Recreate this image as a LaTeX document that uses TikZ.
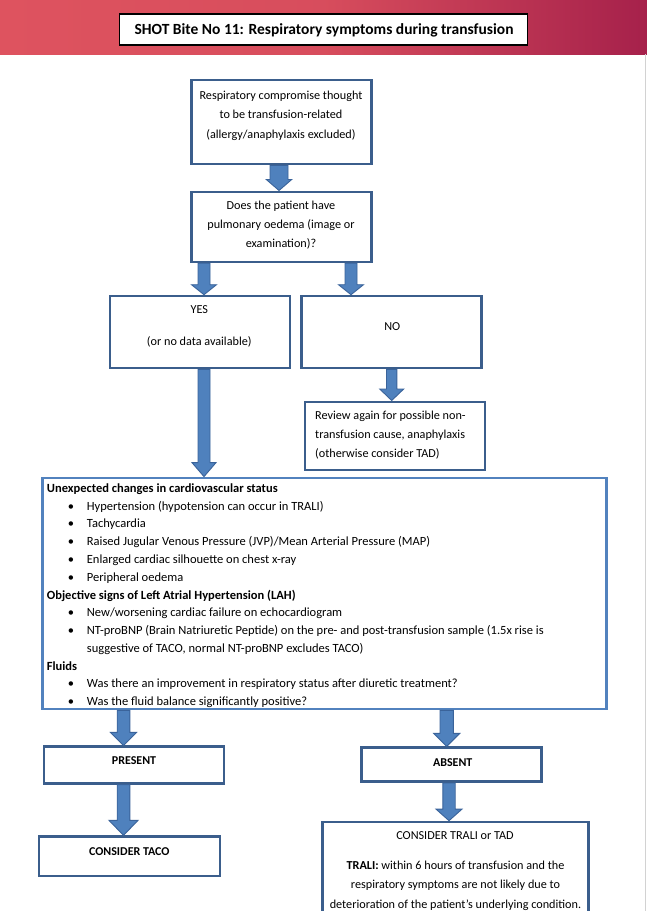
\documentclass[tikz,border=0pt]{standalone}
\usepackage{fontspec}
\setmainfont{Carlito}
\usetikzlibrary{calc}
\definecolor{boxblue}{HTML}{3B5E8C}
\definecolor{bigblue}{HTML}{5282BE}
\definecolor{arrowfill}{HTML}{4F81BD}
\definecolor{arrowedge}{HTML}{3A639A}
\definecolor{bandL}{HTML}{DE535F}
\definecolor{bandR}{HTML}{A6214B}
\newcommand\barrow[5]{%
  \draw[arrowsty] let \p1=#1, \p2=#2 in
  (\x1-#3pt,\y1) -- (\x1+#3pt,\y1) -- (\x1+#3pt,\y2+#5pt) -- (\x1+#4pt,\y2+#5pt)
  -- (\x1,\y2) -- (\x1-#4pt,\y2+#5pt) -- (\x1-#3pt,\y2+#5pt) -- cycle;}
\newcommand\itm{\makebox[40pt][l]{\hspace*{21pt}•}}
\begin{document}
\begin{tikzpicture}[x=1pt,y=-1pt,
  box/.style={draw=boxblue,line width=2.6pt,fill=white,inner sep=0pt},
  bigbox/.style={draw=bigblue,line width=2.8pt,fill=white,inner sep=0pt},
  txt/.style={inner sep=0pt,font=\fontsize{12.2}{19}\selectfont,align=center},
  btxt/.style={inner sep=0pt,font=\fontsize{12}{19}\selectfont\bfseries,align=center},
  arrowsty/.style={fill=arrowfill,draw=arrowedge,line width=0.9pt,line join=miter}]
\useasboundingbox (0,0) rectangle (647,911);
\clip (0,0) rectangle (647,911);
\fill[white] (0,0) rectangle (647,911);
\shade[left color=bandL,right color=bandR,middle color=bandL!88!bandR] (0,0) rectangle (647,54);
\draw[gray!35,line width=0.8pt] (645.5,54) -- (645.5,911);

% title
\node[draw=black,line width=1.4pt,fill=white,minimum width=408pt,minimum height=31pt,inner sep=0pt] (title) at (323.5,29.5) {};
\node[inner sep=0pt,font=\fontsize{15.5}{17}\selectfont\bfseries] (titlet) at (324,30.5) {SHOT Bite No 11: Respiratory symptoms during transfusion};

% boxes
\node[box,minimum width=180pt,minimum height=84pt] (b1) at (281.7,122) {};
\node[box,minimum width=180pt,minimum height=70pt] (b2) at (281.7,226.8) {};
\node[box,minimum width=180pt,minimum height=72pt] (yes) at (200,332) {};
\node[box,minimum width=180pt,minimum height=72pt] (no) at (391.7,332) {};
\node[box,minimum width=180pt,minimum height=68pt] (rev) at (395,435.8) {};
\node[bigbox,minimum width=564pt,minimum height=231pt] (big) at (324.7,593.5) {};
\node[box,minimum width=180pt,minimum height=36.6pt] (pres) at (134,765) {};
\node[box,minimum width=181pt,minimum height=39.3pt] (taco) at (129.5,856.3) {};
\node[box,minimum width=180pt,minimum height=34pt] (abs) at (451.7,764.7) {};
\node[box,minimum width=265.6pt,minimum height=120pt,anchor=north] (trali) at (455.5,820.7) {};

% texts
\node[txt,font=\fontsize{12.2}{19.5}\selectfont] (b1t) at (281,115.7) {Respiratory compromise thought\\to be transfusion-related\\(allergy/anaphylaxis excluded)};
\node[txt,font=\fontsize{12.2}{18.7}\selectfont] (b2t) at (281,225) {Does the patient have\\pulmonary oedema (image or\\examination)?};
\node[txt,font=\fontsize{12.2}{16}\selectfont] (yest) at (199.3,326.7) {YES\\ \\(or no data available)};
\node[txt] (not) at (392.3,326.7) {NO};
\node[txt,align=left,anchor=west] (revt) at (315,435.3) {Review again for possible non-\\transfusion cause, anaphylaxis\\(otherwise consider TAD)};
\node[inner sep=0pt,anchor=north west,align=left,font=\fontsize{12.5}{17.78}\selectfont] (bigt) at (46.7,483.4) {%
\textbf{Unexpected changes in cardiovascular status}\\
\itm Hypertension (hypotension can occur in TRALI)\\
\itm Tachycardia\\
\itm Raised Jugular Venous Pressure (JVP)/Mean Arterial Pressure (MAP)\\
\itm Enlarged cardiac silhouette on chest x-ray\\
\itm Peripheral oedema\\
\textbf{Objective signs of Left Atrial Hypertension (LAH)}\\
\itm New/worsening cardiac failure on echocardiogram\\
\itm NT-proBNP (Brain Natriuretic Peptide) on the pre- and post-transfusion sample (1.5x rise is\\
\hspace*{40pt}suggestive of TACO, normal NT-proBNP excludes TACO)\\
\textbf{Fluids}\\
\itm Was there an improvement in respiratory status after diuretic treatment?\\
\itm Was the fluid balance significantly positive?};
\node[btxt] (prest) at (134,760.7) {PRESENT};
\node[btxt] (abst) at (452.7,762.7) {ABSENT};
\node[btxt] (tacot) at (129.3,851.7) {CONSIDER TACO};
\node[txt] (tralih) at (455,836) {CONSIDER TRALI or TAD};
\node[txt,font=\fontsize{12.2}{19.5}\selectfont] (tralib) at (455.5,885.7) {\textbf{TRALI:} within 6 hours of transfusion and the\\respiratory symptoms are not likely due to\\deterioration of the patient’s underlying condition.};

% arrow x positions
\coordinate (xa) at (279,0);
\coordinate (xb) at (204,0);
\coordinate (xc) at (351,0);
\coordinate (xd) at (391.7,0);
\coordinate (xe) at (123.5,0);
\coordinate (xf) at (446.7,0);
\coordinate (xg) at (449,0);

% arrows
\barrow{(b1.south -| xa)}{(b2.north -| xa)}{9}{12.7}{11}
\barrow{(b2.south -| xb)}{(yes.north -| xb)}{6}{12.5}{10}
\barrow{(b2.south -| xc)}{(no.north -| xc)}{6}{12.5}{10}
\barrow{(no.south -| xd)}{(rev.north -| xd)}{5.2}{12}{11.5}
\barrow{(yes.south -| xb)}{(big.north -| xb)}{6}{12}{14}
\barrow{(big.south -| xe)}{(pres.north -| xe)}{6.3}{13}{13}
\barrow{(pres.south -| xe)}{(taco.north -| xe)}{6.3}{14.5}{15}
\barrow{(big.south -| xf)}{(abs.north -| xf)}{6.7}{13}{13}
\barrow{(abs.south -| xg)}{(trali.north -| xg)}{6.2}{13}{11.6}
\end{tikzpicture}
\end{document}
